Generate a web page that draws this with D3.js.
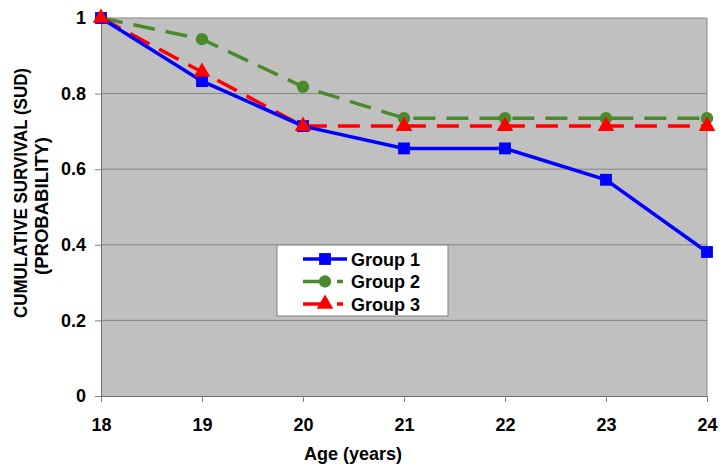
<!DOCTYPE html>
<html><head><meta charset="utf-8">
<script src="https://cdn.jsdelivr.net/npm/d3@7"></script>
<style>body{margin:0;background:#fff;} svg{display:block;font-family:Arial,"Liberation Sans",sans-serif;}</style>
</head><body><svg id="c" width="726" height="474"></svg>
<script>
const ages = [18,19,20,21,22,23,24];
const group1 = [1, 0.833, 0.714, 0.655, 0.655, 0.572, 0.381];
const group2 = [1, 0.944, 0.818, 0.735, 0.735, 0.735, 0.735];
const group3 = [1, 0.857, 0.714, 0.714, 0.714, 0.714, 0.714];
const yTicks = [0, 0.2, 0.4, 0.6, 0.8, 1];
const yTickLabels = ["0","0.2","0.4","0.6","0.8","1"];
const seriesNames = ["Group 1","Group 2","Group 3"];

const svg = d3.select("#c");
const L=101, R=707, T=18, B=396;
const x = d3.scaleLinear().domain([18,24]).range([L,R]);
const y = d3.scaleLinear().domain([0,1]).range([B,T]);

svg.append("rect").attr("x",L).attr("y",T).attr("width",R-L).attr("height",B-T).attr("fill","#c0c0c0");
svg.append("g").selectAll("line").data(yTicks.slice(1)).join("line")
  .attr("x1",L).attr("x2",R).attr("y1",d=>y(d)).attr("y2",d=>y(d))
  .attr("stroke","#858585").attr("stroke-width",1);
svg.append("line").attr("x1",R).attr("x2",R).attr("y1",T).attr("y2",B).attr("stroke","#858585");

const xAxis = svg.append("g").attr("transform",`translate(0,${B})`)
  .call(d3.axisBottom(x).tickValues(ages).tickFormat(d3.format("d")).tickSize(6).tickPadding(16));
const yAxis = svg.append("g").attr("transform",`translate(${L},0)`)
  .call(d3.axisLeft(y).tickValues(yTicks).tickFormat((d,i)=>yTickLabels[i]).tickSize(6).tickPadding(9));
[xAxis,yAxis].forEach(g=>{
  g.select(".domain").attr("stroke","#6e6e6e");
  g.selectAll(".tick line").attr("stroke","#808080");
  g.selectAll("text").attr("font-size",18).attr("font-weight","bold").attr("fill","#000").attr("font-family","Arial, Liberation Sans, sans-serif");
});

svg.append("text").attr("x",353).attr("y",460).attr("text-anchor","middle")
  .attr("font-size",18).attr("font-weight","bold").text("Age (years)");
svg.append("text").attr("transform","translate(27,193) rotate(-90)").attr("text-anchor","middle")
  .attr("font-size",19).attr("font-weight","bold")
  .attr("textLength",250).attr("lengthAdjust","spacingAndGlyphs").text("CUMULATIVE SURVIVAL (SUD)");
svg.append("text").attr("transform","translate(48,206) rotate(-90)").attr("text-anchor","middle")
  .attr("font-size",19).attr("font-weight","bold")
  .attr("textLength",138).attr("lengthAdjust","spacingAndGlyphs").text("(PROBABILITY)");

const series = [
  {name:seriesNames[0], vals:group1, color:"#0000ff", dash:null, shape:d3.symbolSquare, size:140},
  {name:seriesNames[1], vals:group2, color:"#4b8a2c", dash:"22,11", shape:d3.symbolCircle, size:120},
  {name:seriesNames[2], vals:group3, color:"#ff0000", dash:"22,11", shape:d3.symbolTriangle, size:120},
];
const line = d3.line().x((d,i)=>x(ages[i])).y(d=>y(d));
[series[1],series[2],series[0]].forEach(s=>{
  svg.append("path").attr("d",line(s.vals)).attr("fill","none").attr("stroke",s.color)
    .attr("stroke-width",3.5).attr("stroke-dasharray",s.dash);
});
[series[1],series[0],series[2]].forEach(s=>{
  svg.append("g").selectAll("path").data(s.vals).join("path")
    .attr("transform",(d,i)=>`translate(${x(ages[i])},${y(d)})`)
    .attr("d",d3.symbol().type(s.shape).size(s.size))
    .attr("fill",s.color);
});

// legend
const lg = svg.append("g");
lg.append("rect").attr("x",277).attr("y",245).attr("width",171).attr("height",71).attr("fill","#fff").attr("stroke","#808080");
series.forEach((s,i)=>{
  const yy = 259 + i*22.5;
  lg.append("line").attr("x1",303).attr("x2",347).attr("y1",yy).attr("y2",yy)
    .attr("stroke",s.color).attr("stroke-width",3.5).attr("stroke-dasharray",s.dash?"26,8,6":null);
  lg.append("path").attr("transform",`translate(325,${yy})`)
    .attr("d",d3.symbol().type(s.shape).size(s.size)).attr("fill",s.color);
  lg.append("text").attr("x",351).attr("y",yy+6.5).attr("font-size",18).attr("font-weight","bold").text(s.name);
});
</script></body></html>
